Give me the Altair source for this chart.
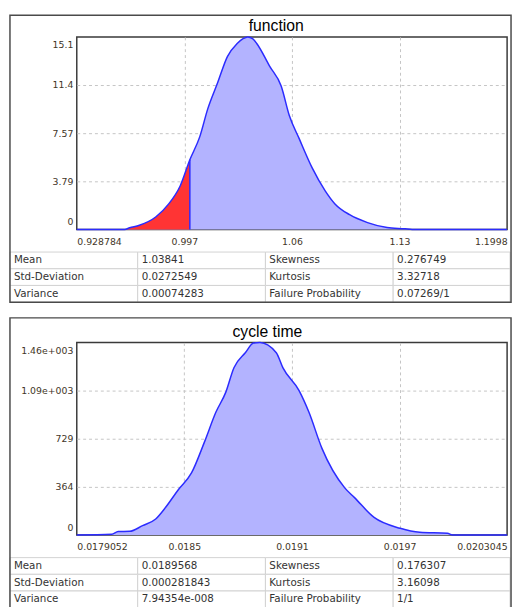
import altair as alt
import pandas as pd

# ---------------- data ----------------
# Panel 1: "function"
title1 = "function"
x1 = [0.928784, 0.95896, 0.96205, 0.96821, 0.97849, 0.98668, 0.99389, 1.0,
      1.00621, 1.01132, 1.01748, 1.02364, 1.0298, 1.0335, 1.0365, 1.0395,
      1.04212, 1.05031, 1.05751, 1.06263, 1.06879, 1.07704, 1.08523, 1.09139,
      1.10063, 1.1119, 1.12422, 1.13556, 1.14, 1.1998]
d1 = [0, 0, 0.13, 0.33, 0.98, 2.01, 3.42, 5.48,
      7.28, 9.50, 11.53, 13.59, 14.62, 15.0, 15.14, 15.0,
      14.62, 12.82, 11.28, 8.96, 7.16, 4.84, 3.04, 2.01,
      1.16, 0.54, 0.15, 0.05, 0, 0]
threshold1 = 1.0
x1_ticks = [0.928784, 0.996538, 1.064292, 1.132046, 1.1998]
x1_labels = ["0.928784", "0.997", "1.06", "1.13", "1.1998"]
y1_ticks = [0, 3.785, 7.57, 11.355, 15.14]
y1_labels = ["0", "3.79", "7.57", "11.4", "15.1"]
vals1_left = ["1.03841", "0.0272549", "0.00074283"]
vals1_right = ["0.276749", "3.32718", "0.07269/1"]

# Panel 2: "cycle time"
title2 = "cycle time"
x2 = [0.0179052, 0.0181, 0.0181359, 0.0181997, 0.0182722, 0.0183453, 0.0183998,
      0.0184723, 0.0185448, 0.0186179, 0.0186812, 0.0187357, 0.0187815,
      0.0188448, 0.0188906, 0.0189266, 0.0190176, 0.0190541, 0.0191447,
      0.0191992, 0.0192722, 0.0193993, 0.0194539, 0.0195629, 0.0197085,
      0.0198176, 0.0199719, 0.0200, 0.0203045]
d2 = [0, 5, 26, 28, 71, 121, 208,
      345, 470, 707, 931, 1080, 1267,
      1380, 1454, 1458, 1380, 1267, 1093,
      931, 656, 357, 283, 133, 51,
      21, 13, 0, 0]
x2_ticks = [0.0179052, 0.018505, 0.0191049, 0.0197047, 0.0203045]
x2_labels = ["0.0179052", "0.0185", "0.0191", "0.0197", "0.0203045"]
y2_ticks = [0, 364.5, 729, 1093.5, 1458]
y2_labels = ["0", "364", "729", "1.09e+003", "1.46e+003"]
vals2_left = ["0.0189568", "0.000281843", "7.94354e-008"]
vals2_right = ["0.176307", "3.16098", "1/1"]

stats_left = ["Mean", "Std-Deviation", "Variance"]
stats_right = ["Skewness", "Kurtosis", "Failure Probability"]

# ---------------- styling ----------------
W, H = 438, 196
AXIS_FONT = "DejaVu Sans"
AXIS_COLOR = "#3f3628"
FILL = "#b3b3ff"
LINE = "#2b2bff"
RED = "#ff3434"


def label_expr(ticks, labels):
    vals = ",".join(repr(float(t)) for t in ticks)
    labs = ",".join("'" + l + "'" for l in labels)
    return f"[{labs}][indexof([{vals}], datum.value)]"


def panel(title, title_x, xs, ds, x_ticks, x_labels, y_ticks, y_labels,
          vl, vr, frame_top, threshold=None):
    df = pd.DataFrame({"x": xs, "d": ds})
    axis_common = dict(title=None, ticks=False, domain=False, labelFlush=True,
                       grid=True, gridDash=[3, 3], gridColor="#c4c4c4",
                       gridOpacity=alt.condition("datum.index == 0 || datum.index == 1",
                                                 alt.value(0), alt.value(1)),
                       labelFont=AXIS_FONT, labelFontSize=9.5,
                       labelColor=AXIS_COLOR)
    xenc = alt.X("x:Q",
                 scale=alt.Scale(domain=[x_ticks[0], x_ticks[-1]], nice=False, zero=False),
                 axis=alt.Axis(values=x_ticks, labelExpr=label_expr(x_ticks, x_labels),
                               labelPadding=7, **axis_common))
    yenc = alt.Y("d:Q",
                 scale=alt.Scale(domain=[y_ticks[0], y_ticks[-1]], nice=False),
                 axis=alt.Axis(values=y_ticks, labelExpr=label_expr(y_ticks, y_labels),
                               labelPadding=4, labelFlushOffset=-3, **axis_common))
    base = alt.Chart(df)
    layers = [base.mark_area(color=FILL, opacity=1, interpolate="monotone").encode(x=xenc, y=yenc)]
    if threshold is not None:
        layers.append(
            base.transform_filter(alt.datum.x <= threshold)
            .mark_area(color=RED, opacity=1, interpolate="monotone").encode(x="x:Q", y="d:Q"))
    layers.append(base.mark_line(color=LINE, strokeWidth=1.5, interpolate="monotone")
                  .encode(x="x:Q", y="d:Q"))
    if threshold is not None:
        layers.append(
            base.transform_filter(alt.datum.x == threshold)
            .transform_calculate(z="0")
            .mark_rule(color=LINE, strokeWidth=1.5)
            .encode(x="x:Q", y="d:Q", y2="z:Q"))
    plot = alt.layer(*layers)

    rows = []
    for r in range(3):
        rows += [dict(r=r, c=0, t=stats_left[r]), dict(r=r, c=1, t=vl[r]),
                 dict(r=r, c=2, t=stats_right[r]), dict(r=r, c=3, t=vr[r])]
    tdf = pd.DataFrame(rows)
    tx = alt.Scale(domain=[0, 3.915], range=[-68, 441], clamp=True, nice=False, zero=False)
    ty = alt.Scale(domain=[0, 3], range=[219, 270], nice=False, zero=False)
    tbase = alt.Chart(tdf).transform_calculate(
        c2="datum.c + 1", r2="datum.r + 1", rm="datum.r + 0.5")
    cells = tbase.mark_rect(fill="white", stroke="#d2d2d2", strokeWidth=1).encode(
        x=alt.X("c:Q", scale=tx, axis=None), x2="c2:Q",
        y=alt.Y("r:Q", scale=ty, axis=None), y2="r2:Q")
    texts = tbase.mark_text(align="left", baseline="middle", dx=4,
                            font="DejaVu Sans", fontSize=10.5, color="#333333").encode(
        x=alt.X("c:Q", scale=tx, axis=None),
        y=alt.Y("rm:Q", scale=ty, axis=None), text="t:N")
    frame = alt.Chart(pd.DataFrame({"k": [0]})).mark_rect(
        fill="white", fillOpacity=0, stroke="#4a4a4a", strokeWidth=1.5).encode(
        x=alt.value(-68), x2=alt.value(442), y=alt.value(frame_top), y2=alt.value(270))
    head = alt.Chart(pd.DataFrame({"t": [title]})).mark_text(
        font="Liberation Sans", fontSize=16, color="black", align="center",
        baseline="alphabetic").encode(x=alt.value(title_x), y=alt.value(-6), text="t:N")
    table = alt.layer(cells, texts, frame, head)

    return alt.layer(plot, table).resolve_scale(
        x="independent", y="independent").properties(width=W, height=H)


p1 = panel(title1, 203, x1, d1, x1_ticks, x1_labels, y1_ticks, y1_labels,
           vals1_left, vals1_right, -22, threshold=threshold1)
p2 = panel(title2, 194, x2, d2, x2_ticks, x2_labels, y2_ticks, y2_labels,
           vals2_left, vals2_right, -25)

chart = alt.vconcat(p1, p2, spacing=12, padding=0).configure_view(
    stroke="#3a3a3a", strokeWidth=1.5)

chart.save("out.html", embed_options={"renderer": "svg", "actions": False})
